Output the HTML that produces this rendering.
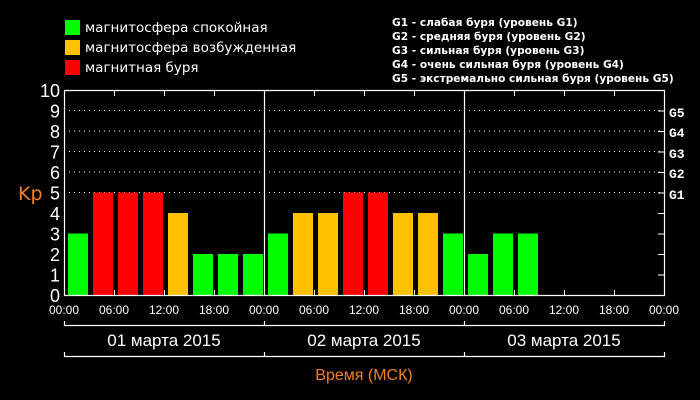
<!DOCTYPE html>
<html><head><meta charset="utf-8"><style>
html,body{margin:0;padding:0;background:#000;}
svg{display:block;font-family:"Liberation Sans","DejaVu Sans",sans-serif;}
</style></head><body>
<svg width="700" height="400" viewBox="0 0 700 400" xmlns="http://www.w3.org/2000/svg">
<rect width="700" height="400" fill="#000"/>
<rect x="65" y="20" width="15" height="15" fill="#00ff00"/>
<rect x="65" y="40" width="15" height="15" fill="#ffc000"/>
<rect x="65" y="60" width="15" height="15" fill="#ff0000"/>
<g fill="#fff" font-size="13.5" font-family="'DejaVu Sans',sans-serif">
<text x="85" y="32">магнитосфера спокойная</text>
<text x="85" y="52">магнитосфера возбужденная</text>
<text x="85" y="72">магнитная буря</text>
</g>
<g fill="#fff" font-size="10.6" font-family="'DejaVu Sans',sans-serif" font-weight="bold">
<text x="392" y="26">G1 - слабая буря (уровень G1)</text>
<text x="392" y="40">G2 - средняя буря (уровень G2)</text>
<text x="392" y="54">G3 - сильная буря (уровень G3)</text>
<text x="392" y="68">G4 - очень сильная буря (уровень G4)</text>
<text x="392" y="82">G5 - экстремально сильная буря (уровень G5)</text>
</g>
<g stroke="#fff" stroke-width="1" stroke-dasharray="1,4">
<line x1="64" x2="664" y1="110.5" y2="110.5"/>
<line x1="64" x2="664" y1="131" y2="131"/>
<line x1="64" x2="664" y1="151.5" y2="151.5"/>
<line x1="64" x2="664" y1="172" y2="172"/>
<line x1="64" x2="664" y1="192.5" y2="192.5"/>
</g>
<g id="bars"></g>
<g stroke="#fff" stroke-width="1.2" fill="none">
<line x1="64.5" y1="90" x2="64.5" y2="296"/>
<line x1="64" y1="90.5" x2="665" y2="90.5"/>
<line x1="664.5" y1="90" x2="664.5" y2="296"/>
<line x1="264.5" y1="90" x2="264.5" y2="296"/>
<line x1="464.5" y1="90" x2="464.5" y2="296"/>
<line x1="64" y1="295.5" x2="665" y2="295.5"/>
</g>
<g stroke="#fff" stroke-width="1" id="ticks"></g>
<g fill="#fff" font-size="18" text-anchor="end" font-family="'Liberation Sans',sans-serif" id="ylab"></g>
<text x="18" y="200" fill="#f08020" font-size="19" font-family="'DejaVu Sans',sans-serif">Kp</text>
<g fill="#fff" font-size="13" font-weight="bold" font-family="'Liberation Mono','DejaVu Sans Mono',monospace">
<text x="669" y="117">G5</text>
<text x="669" y="137">G4</text>
<text x="669" y="158">G3</text>
<text x="669" y="178">G2</text>
<text x="669" y="199">G1</text>
</g>
<g fill="#fff" font-size="12" text-anchor="middle" id="xlab"></g>
<g stroke="#fff" stroke-width="1.2">
<line x1="64" x2="665" y1="325.5" y2="325.5"/>
<line x1="64" x2="665" y1="356.5" y2="356.5"/>
<line x1="64.5" x2="64.5" y1="321" y2="326"/>
<line x1="264.5" x2="264.5" y1="321" y2="326"/>
<line x1="464.5" x2="464.5" y1="321" y2="326"/>
<line x1="664.5" x2="664.5" y1="321" y2="326"/>
<line x1="64.5" x2="64.5" y1="352" y2="357"/>
<line x1="264.5" x2="264.5" y1="352" y2="357"/>
<line x1="464.5" x2="464.5" y1="352" y2="357"/>
<line x1="664.5" x2="664.5" y1="352" y2="357"/>
</g>
<g fill="#fff" font-size="17" text-anchor="middle">
<text x="164" y="346">01 марта 2015</text>
<text x="364" y="346">02 марта 2015</text>
<text x="564" y="346">03 марта 2015</text>
</g>
<text x="364" y="380" fill="#f08020" font-size="16" text-anchor="middle">Время (МСК)</text>
<script>
(function(){
var ns="http://www.w3.org/2000/svg";
function el(p,t,a){var e=document.createElementNS(ns,t);for(var k in a)e.setAttribute(k,a[k]);document.getElementById(p).appendChild(e);return e;}
var d=[3,5,5,5,4,2,2,2,3,4,4,5,5,4,4,3,2,3,3];
function c(v){return v>=5?"#ff0000":(v==4?"#ffc000":"#00ff00");}
var u=20.5;
d.forEach(function(v,i){el("bars","rect",{x:68+i*25,y:295-v*u,width:20,height:v*u,fill:c(v)});});
for(var i=0;i<=10;i++){var t=el("ylab","text",{x:60,y:302-i*u});t.textContent=i;}
for(var i=1;i<12;i++){var x=64.5+i*50;el("ticks","line",{x1:x,x2:x,y1:90,y2:96});el("ticks","line",{x1:x,x2:x,y1:290,y2:296});}
for(var i=1;i<10;i++){var y=295.5-i*u;el("ticks","line",{x1:658,x2:665,y1:y,y2:y});}
var L=["00:00","06:00","12:00","18:00"];
for(var i=0;i<=12;i++){var t=el("xlab","text",{x:64+i*50,y:314});t.textContent=L[i%4];}
})();
</script>
</svg>
</body></html>
